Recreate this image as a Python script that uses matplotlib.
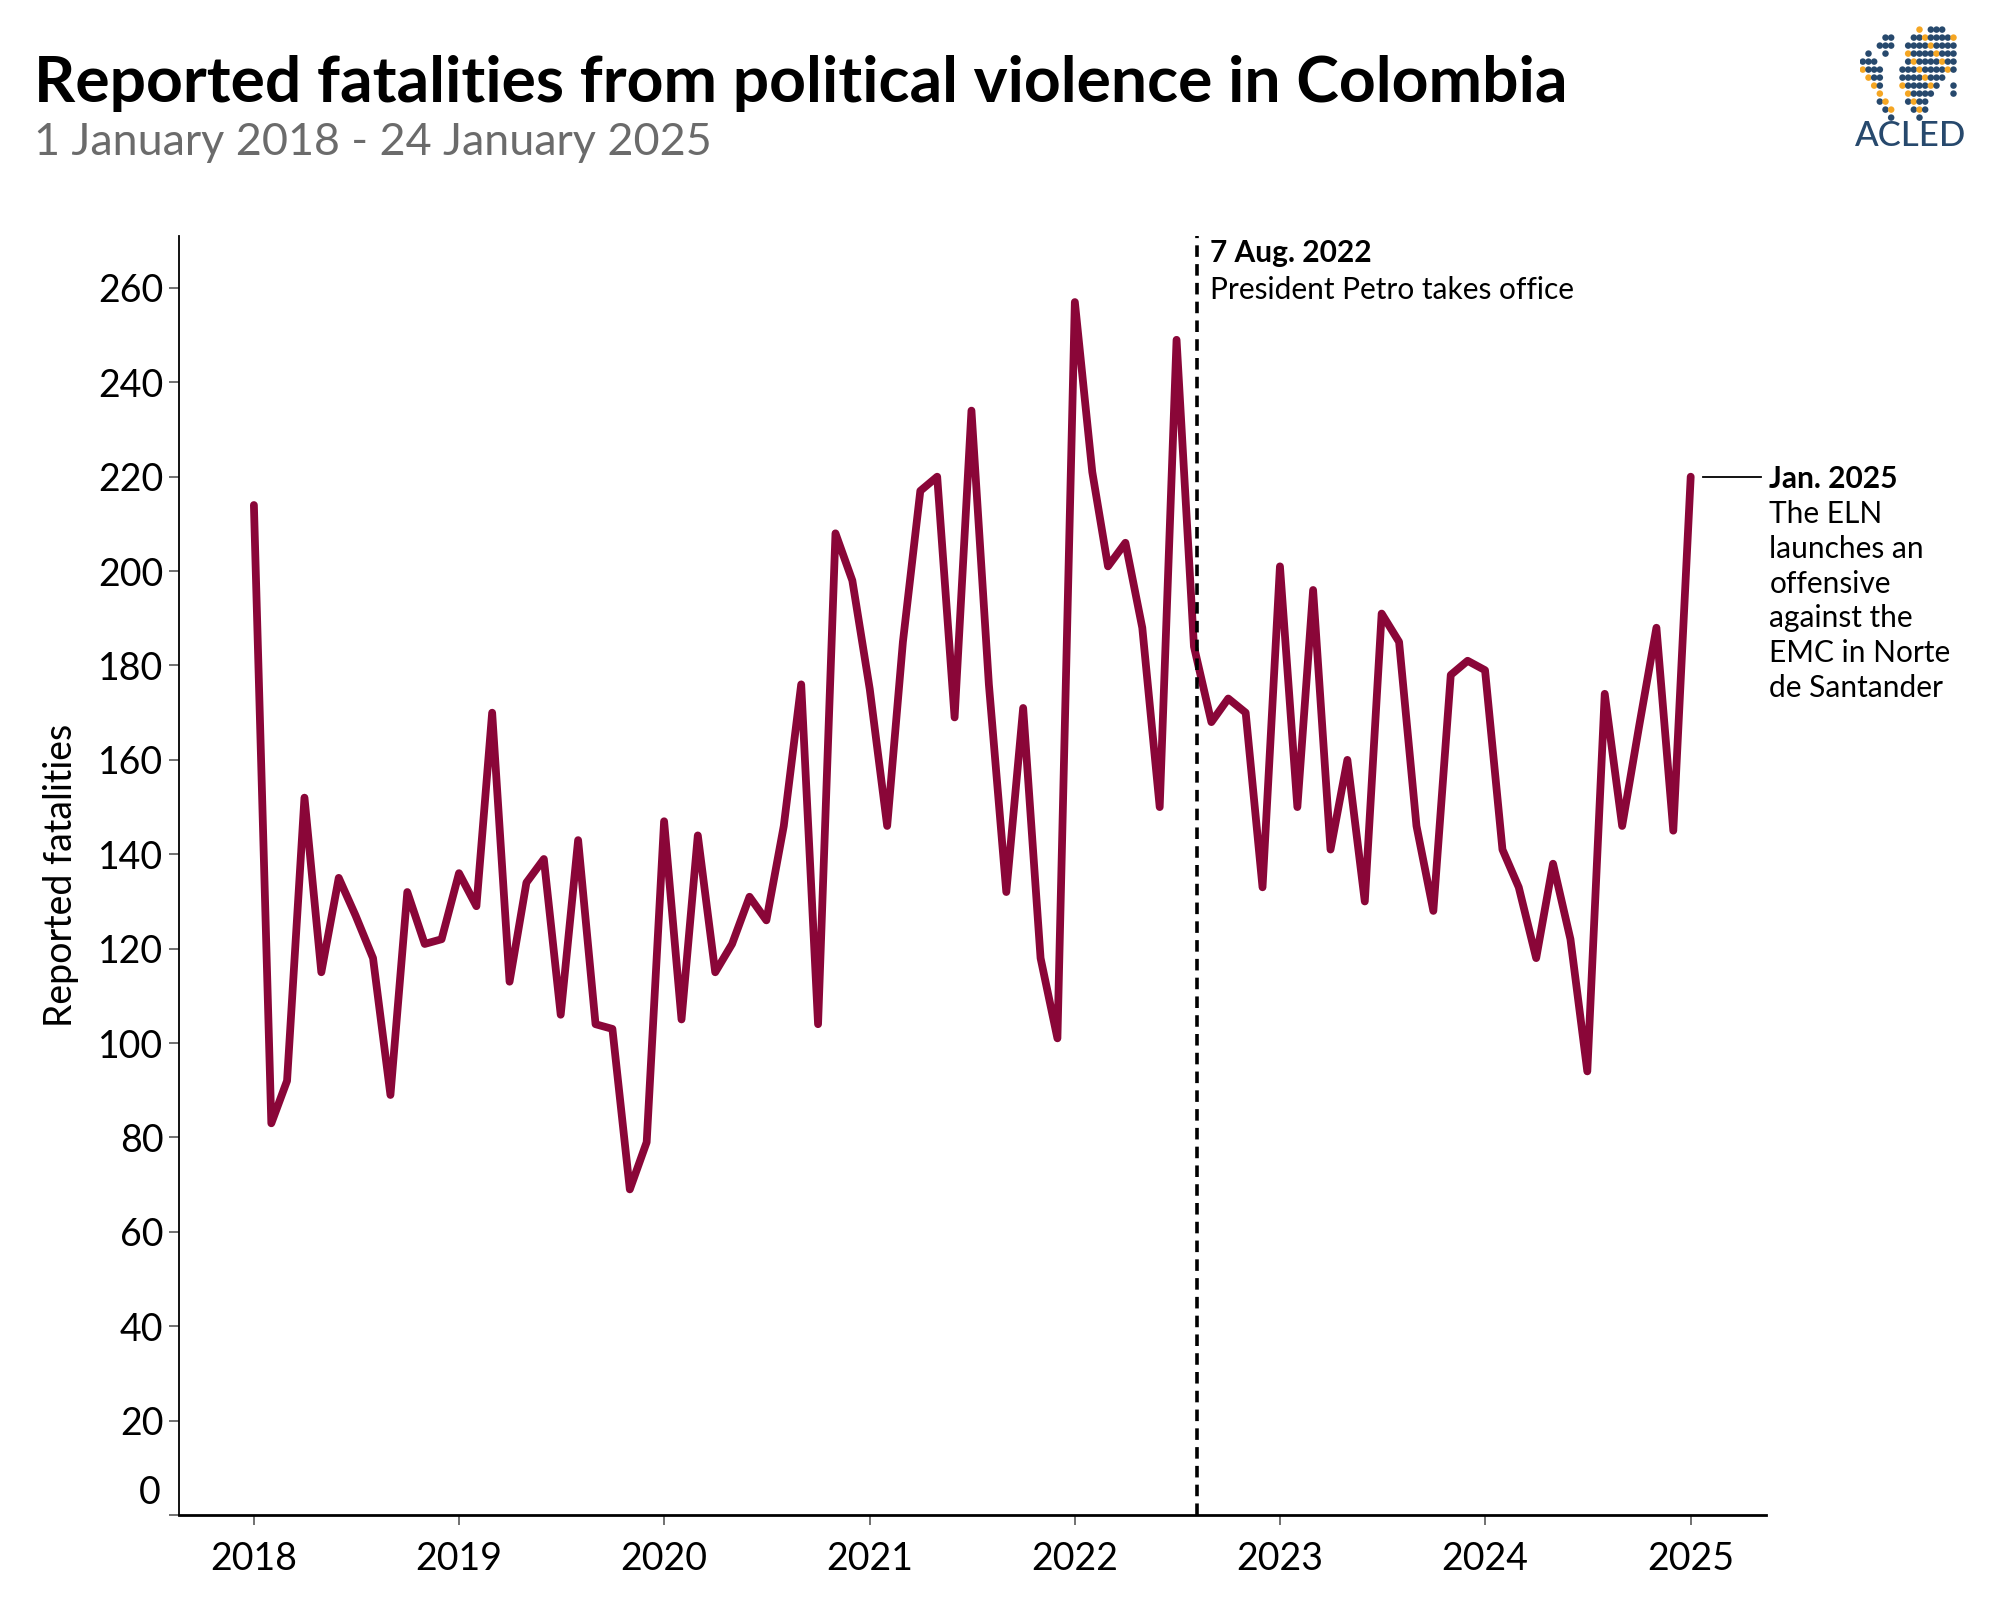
import matplotlib
matplotlib.use("Agg")
import matplotlib.pyplot as plt
import matplotlib.dates as mdates
import numpy as np
import pandas as pd

plt.rcParams['font.family'] = ['Lato', 'DejaVu Sans']

# Monthly reported fatalities, Jan 2018 - Jan 2025
months = pd.date_range('2018-01-01', periods=85, freq='MS')
fatalities = [
    214, 83, 92, 152, 115, 135, 127, 118, 89, 132, 121, 122,   # 2018
    136, 129, 170, 113, 134, 139, 106, 143, 104, 103, 69, 79,  # 2019
    147, 105, 144, 115, 121, 131, 126, 146, 176, 104, 208, 198,  # 2020
    175, 146, 185, 217, 220, 169, 234, 176, 132, 171, 118, 101,  # 2021
    257, 221, 201, 206, 188, 150, 249, 184, 168, 173, 170, 133,  # 2022
    201, 150, 196, 141, 160, 130, 191, 185, 146, 128, 178, 181,  # 2023
    179, 141, 133, 118, 138, 122, 94, 174, 146, 167, 188, 145,  # 2024
    220,                                                          # 2025
]
year_ticks = pd.date_range('2018-01-01', periods=8, freq='YS')
year_labels = [str(d.year) for d in year_ticks]
y_ticks = list(range(0, 261, 20))

petro_date = pd.Timestamp('2022-08-07')
line_color = '#8a0638'

fig = plt.figure(figsize=(20, 16), dpi=100)
ax = fig.add_axes([0.0893, 0.0531, 0.7937, 0.7994])

ax.plot(months, fatalities, color=line_color, lw=5.6,
        solid_joinstyle='round', solid_capstyle='round')

# Petro takes office
ax.axvline(petro_date, color='black', lw=2.6, ls=(0, (3.2, 2.0)))
ax.text(petro_date + pd.Timedelta(days=22), 267.5, '7 Aug. 2022', fontsize=21.5,
        fontweight='bold', va='center', ha='left')
ax.text(petro_date + pd.Timedelta(days=22), 259.5, 'President Petro takes office',
        fontsize=21.5, va='center', ha='left')

# Jan 2025 annotation
x0 = mdates.date2num(months[-1])
ax.plot([x0 + 22, x0 + 125], [220, 220], color='black', lw=1.3, clip_on=False)
ax.text(x0 + 140, 219.5, 'Jan. 2025', fontsize=21.5, fontweight='bold',
        va='center', ha='left')
ax.text(x0 + 140, 215.0,
        'The ELN\nlaunches an\noffensive\nagainst the\nEMC in Norte\nde Santander',
        fontsize=21.5, va='top', ha='left', linespacing=1.29)

# axes
ax.set_xlim(mdates.date2num(pd.Timestamp('2017-08-20')),
            mdates.date2num(pd.Timestamp('2025-05-15')))
ax.set_ylim(0, 271)
ax.set_xticks(year_ticks)
ax.set_xticklabels(year_labels)
ax.set_yticks(y_ticks)
ax.set_yticklabels([''] + [str(v) for v in y_ticks[1:]])
ax.annotate('0', xy=(0, 0), xycoords=('axes fraction', 'data'),
            xytext=(-13, 16), textcoords='offset points',
            ha='right', va='center', fontsize=27)

ax.tick_params(axis='both', labelsize=27, color='#666666', width=1.3,
               length=7)
ax.tick_params(axis='x', pad=12)
ax.tick_params(axis='y', pad=4)
for s in ['top', 'right']:
    ax.spines[s].set_visible(False)
ax.spines['bottom'].set_linewidth(2)
ax.spines['left'].set_linewidth(1.3)
ax.set_ylabel('Reported fatalities', fontsize=27, labelpad=14)

# title
fig.text(0.017, 0.936, 'Reported fatalities from political violence in Colombia',
         fontsize=46.3, fontweight='bold', ha='left', va='baseline')
fig.text(0.017, 0.903, '1 January 2018 - 24 January 2025',
         fontsize=32.3, color='#6b6b6b', ha='left', va='baseline')

# logo: rough dot map and ACLED wordmark
logo = fig.add_axes([0.930, 0.924, 0.051, 0.060])
logo.axis('off')
mask = [
    "..........#.###...",
    "....##...########.",
    "...###..#########.",
    ".#..#...#########.",
    "###.....#########.",
    "####...##########.",
    ".###...########...",
    "..##...#######..#.",
    "...#....#####...#.",
    "...##...####......",
    "....##...###......",
    ".....#....#.......",
]
rows = len(mask)
pts_x, pts_y, cols = [], [], []
for r, row in enumerate(mask):
    for c, ch in enumerate(row):
        if ch == '#':
            pts_x.append(c)
            pts_y.append(rows - r)
            cols.append('#f5a623' if (r * 7 + c * 3) % 5 == 0 else '#27496d')
logo.scatter(pts_x, pts_y, s=22, c=cols, linewidths=0)
logo.set_xlim(-0.5, 17.5)
logo.set_ylim(0.5, rows + 0.5)
fig.text(0.9555, 0.915, 'ACLED', fontsize=25, color='#27496d', ha='center',
         va='center', fontweight='medium')

fig.savefig('out.png', dpi=100)
